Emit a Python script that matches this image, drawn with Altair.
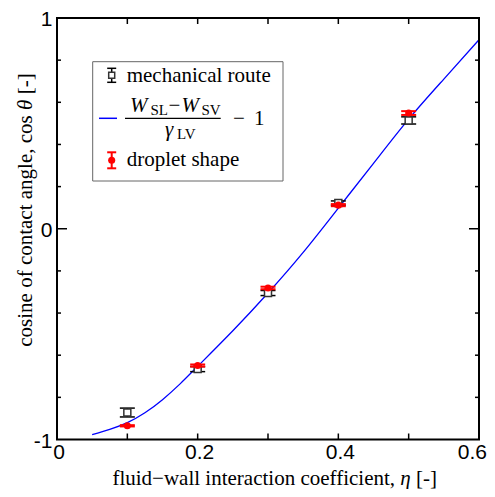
import altair as alt
import pandas as pd

# ---- data ----
eta_pts = [0.1, 0.2, 0.3, 0.4, 0.5]
mech_cos = [-0.872, -0.666, -0.305, 0.122, 0.514]
mech_err = [0.021, 0.012, 0.012, 0.010, 0.017]
drop_cos = [-0.935, -0.649, -0.281, 0.112, 0.549]
drop_err = [0.003, 0.005, 0.006, 0.005, 0.009]

curve_eta = [0.05, 0.075, 0.1, 0.125, 0.15, 0.175, 0.2, 0.25, 0.3, 0.35, 0.4, 0.45, 0.5, 0.55, 0.6]
curve_cos = [-0.977, -0.952, -0.920, -0.873, -0.811, -0.736, -0.653, -0.484, -0.305, -0.112,
             0.098, 0.31, 0.52, 0.71, 0.897]

x_label_inner = [0, 0.2, 0.4]
x_label_inner_txt = ["0", "0.2", "0.4"]
x_label_last = [0.6]
x_label_last_txt = ["0.6"]
y_label_vals = [-1, 0, 1]
x_tick_vals = [0.1, 0.2, 0.3, 0.4, 0.5]
y_minor_vals = [-0.8, -0.6, -0.4, -0.2, 0.2, 0.4, 0.6, 0.8]
y_major_vals = [0]

W, H = 422, 421.5
SERIF = "Liberation Serif"
SANS = "Liberation Sans"

xs = alt.Scale(domain=[0, 0.6], nice=False, zero=False)
ys = alt.Scale(domain=[-1, 1], nice=False, zero=False)
xax = alt.Axis(values=[0, 0.2, 0.4, 0.6], ticks=False, domain=False, grid=False, title=None, labels=False)
yax = alt.Axis(values=y_label_vals, ticks=False, domain=False, grid=False, title=None,
               labelFont=SANS, labelFontSize=21, labelColor="black", labelPadding=5,
               labelFlush=False, labelOverlap=False, labelOffset=1.5,
               labelExpr="'' + datum.value")

def X(f):
    return alt.X(f, type="quantitative", scale=xs, axis=xax)

def Y(f):
    return alt.Y(f, type="quantitative", scale=ys, axis=yax)

curve_df = pd.DataFrame({"eta": curve_eta, "cos": curve_cos})
mech_df = pd.DataFrame({"eta": eta_pts, "cos": mech_cos,
                        "lo": [c - e for c, e in zip(mech_cos, mech_err)],
                        "hi": [c + e for c, e in zip(mech_cos, mech_err)]})
drop_df = pd.DataFrame({"eta": eta_pts, "cos": drop_cos,
                        "lo": [c - e for c, e in zip(drop_cos, drop_err)],
                        "hi": [c + e for c, e in zip(drop_cos, drop_err)]})

curve = alt.Chart(curve_df).mark_line(color="#0000ff", strokeWidth=1.3, interpolate="natural").encode(
    x=X("eta"), y=Y("cos"))

mech_bar = alt.Chart(mech_df).mark_rule(color="black", strokeWidth=1.5).encode(
    x=X("eta"), y=Y("lo"), y2="hi")
mech_cap_lo = alt.Chart(mech_df).mark_tick(orient="horizontal", color="black", size=15, thickness=1.5, opacity=1).encode(
    x=X("eta"), y=Y("lo"))
mech_cap_hi = alt.Chart(mech_df).mark_tick(orient="horizontal", color="black", size=15, thickness=1.5, opacity=1).encode(
    x=X("eta"), y=Y("hi"))
mech_pt = alt.Chart(mech_df).mark_point(shape="square", size=49, filled=True, fill="white",
                                        stroke="#333333", strokeWidth=1.5, opacity=1).encode(
    x=X("eta"), y=Y("cos"))

drop_bar = alt.Chart(drop_df).mark_rule(color="red", strokeWidth=2).encode(
    x=X("eta"), y=Y("lo"), y2="hi")
drop_cap_lo = alt.Chart(drop_df).mark_tick(orient="horizontal", color="red", size=15, thickness=2, opacity=1).encode(
    x=X("eta"), y=Y("lo"))
drop_cap_hi = alt.Chart(drop_df).mark_tick(orient="horizontal", color="red", size=15, thickness=2, opacity=1).encode(
    x=X("eta"), y=Y("hi"))
drop_pt = alt.Chart(drop_df).mark_circle(size=50, color="red", opacity=1).encode(
    x=X("eta"), y=Y("cos"))

# x tick labels as text marks (last one kept inside the page)
xl_inner = alt.Chart(pd.DataFrame({"eta": x_label_inner, "t": x_label_inner_txt})).mark_text(
    font=SANS, fontSize=21, baseline="top", align="center", color="black", dx=2).encode(
    x=X("eta"), y=alt.value(H + 2), text="t:N")
xl_last = alt.Chart(pd.DataFrame({"eta": x_label_last, "t": x_label_last_txt})).mark_text(
    font=SANS, fontSize=21, baseline="top", align="right", color="black", dx=8).encode(
    x=X("eta"), y=alt.value(H + 2), text="t:N")

# inward ticks and frame
xt_df = pd.DataFrame({"eta": x_tick_vals})
ymin_df = pd.DataFrame({"cos": y_minor_vals})
ymaj_df = pd.DataFrame({"cos": y_major_vals})
tick_style = dict(color="black", strokeWidth=1.5)
ticks = [
    alt.Chart(xt_df).mark_rule(**tick_style).encode(x=X("eta"), y=alt.value(H), y2=alt.value(H - 6)),
    alt.Chart(xt_df).mark_rule(**tick_style).encode(x=X("eta"), y=alt.value(0), y2=alt.value(6)),
    alt.Chart(ymin_df).mark_rule(**tick_style).encode(y=Y("cos"), x=alt.value(0), x2=alt.value(4)),
    alt.Chart(ymin_df).mark_rule(**tick_style).encode(y=Y("cos"), x=alt.value(W), x2=alt.value(W - 4)),
    alt.Chart(ymaj_df).mark_rule(**tick_style).encode(y=Y("cos"), x=alt.value(0), x2=alt.value(10)),
    alt.Chart(ymaj_df).mark_rule(**tick_style).encode(y=Y("cos"), x=alt.value(W), x2=alt.value(W - 10)),
]

one = alt.Data(values=[{"a": 1}])

frame = alt.Chart(one).mark_rect(filled=False, stroke="black", strokeWidth=2).encode(
    x=alt.value(0), x2=alt.value(W), y=alt.value(0), y2=alt.value(H))

def txt(t, x, y, size=21, italic=False, align="left", baseline="alphabetic", angle=0, font=SERIF):
    kw = dict(text=t, font=font, fontSize=size, align=align, baseline=baseline, color="black")
    if italic:
        kw["fontStyle"] = "italic"
    if angle:
        kw["angle"] = angle
    return alt.Chart(one).mark_text(**kw).encode(x=alt.value(x), y=alt.value(y))

def rule(x1, x2, y1, y2, color="black", w=1.5):
    return alt.Chart(one).mark_rule(color=color, strokeWidth=w).encode(
        x=alt.value(x1), x2=alt.value(x2), y=alt.value(y1), y2=alt.value(y2))

# axis titles with italic symbols
xa = 343.3
xt_y = 466.5
x_title = [
    txt("fluid\u2212wall interaction coefficient,", xa - 5.25, xt_y, align="right"),
    txt("\u03b7", xa, xt_y, italic=True),
    txt("[-]", xa + 15.75, xt_y),
]
ya = 92
y_title = [
    txt("cosine of contact angle, cos", -25, ya + 5.25, align="right", angle=270),
    txt("\u03b8", -25, ya, italic=True, angle=270),
    txt("[-]", -25, ya - 15.75, angle=270),
]

# legend
lx = 54.7
legend = [
    alt.Chart(one).mark_rect(filled=False, stroke="#666666", strokeWidth=1).encode(
        x=alt.value(35.7), x2=alt.value(226), y=alt.value(43.7), y2=alt.value(163)),
    rule(lx, lx, 50.3, 64.3),
    rule(lx - 4.5, lx + 4.5, 50.3, 50.3),
    rule(lx - 4.5, lx + 4.5, 64.3, 64.3),
    alt.Chart(one).mark_point(shape="square", size=36, filled=True, fill="white", stroke="#333333",
                              strokeWidth=1.5, opacity=1).encode(x=alt.value(lx), y=alt.value(57.3)),
    txt("mechanical route", 69.7, 63.7),
    rule(42, 60, 100.3, 100.3, color="#0000ff", w=1.5),
    txt("W", 73, 94, italic=True),
    txt("SL", 93.5, 97, size=15),
    txt("\u2212", 111.5, 94),
    txt("W", 124.5, 94, italic=True),
    txt("SV", 144.5, 97, size=15),
    rule(68, 163.7, 100.3, 100.3, w=1.3),
    txt("\u03b3", 108, 118, italic=True),
    txt("LV", 120, 121, size=15),
    txt("\u2212", 176, 106.5),
    txt("1", 197, 106.5),
    rule(lx, lx, 134.3, 150.3, color="red", w=2),
    rule(lx - 4.5, lx + 4.5, 134.3, 134.3, color="red", w=2),
    rule(lx - 4.5, lx + 4.5, 150.3, 150.3, color="red", w=2),
    alt.Chart(one).mark_circle(size=50, color="red", opacity=1).encode(x=alt.value(lx), y=alt.value(142.3)),
    txt("droplet shape", 69.7, 148),
]

chart = alt.layer(
    curve, mech_bar, mech_cap_lo, mech_cap_hi, mech_pt,
    drop_bar, drop_cap_lo, drop_cap_hi, drop_pt,
    xl_inner, xl_last,
    *ticks, frame, *x_title, *y_title, *legend,
).properties(
    width=W, height=H,
    autosize=alt.AutoSizeParams(type="none"),
    padding={"left": 49, "top": 10, "right": 8, "bottom": 49},
).configure_view(stroke=None)

chart.save("out.html", embed_options={"renderer": "svg", "actions": False})
